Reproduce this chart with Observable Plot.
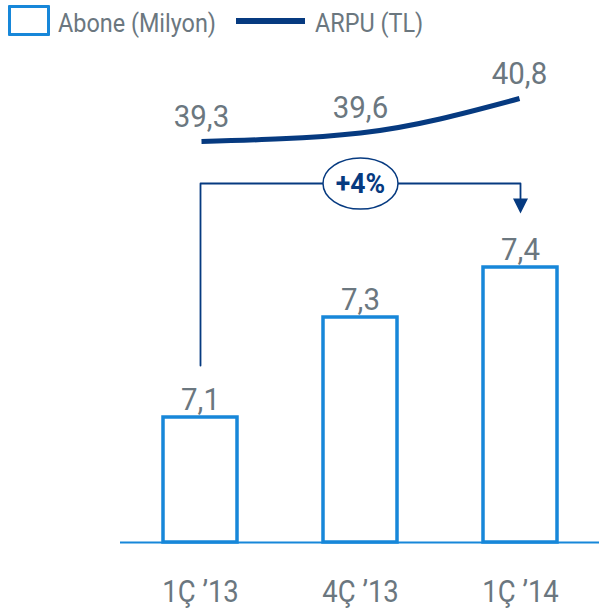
<!DOCTYPE html>
<html><head><meta charset="utf-8">
<script src="https://cdn.jsdelivr.net/npm/d3@7"></script>
<script src="https://cdn.jsdelivr.net/npm/@observablehq/plot@0.6"></script>
<style>
body{margin:0;background:#fff;}
#wrap{position:relative;width:599px;height:610px;font-family:Roboto,sans-serif;overflow:hidden;}
.a{position:absolute;}
.lt{position:absolute;font-size:26px;line-height:26px;color:#6b777f;transform:scaleX(0.9);transform-origin:0 0;white-space:nowrap;}
.layer{position:absolute;left:0;top:45px;width:599px;height:565px;}
</style></head><body>
<div id="wrap">
  <div class="a" style="left:8px;top:5px;width:42px;height:31px;border:3.5px solid #1787d9;box-sizing:border-box;border-radius:1px;"></div>
  <div class="lt" style="left:58px;top:10px">Abone (Milyon)</div>
  <div class="a" style="left:236px;top:18px;width:69px;height:6px;background:#063a80;"></div>
  <div class="lt" style="left:315px;top:10px">ARPU (TL)</div>
  <div id="bars" class="layer"></div>
  <div id="line" class="layer"></div>
</div>
<script>
// ---- data ----
const quarters = ["1Ç ’13", "4Ç ’13", "1Ç ’14"];
const abone = [7.1, 7.3, 7.4];      // Abone (Milyon)
const arpu = [39.3, 39.6, 40.8];    // ARPU (TL)
const growthLabel = "+4%";

// ---- styles / layout ----
const BLUE = "#1787d9", NAVY = "#063a80", GRAY = "#6b777f";
const W = 599, H = 565, ML = 120, MR = 0, MT = 0, MB = 68;
const xScale = {domain: quarters, paddingInner: 0.54, paddingOuter: 0.26, align: 0.5};
const barDomain = [6.85, 7.844];
const arpuDomain = [25.31, 42.65];
const annY = {start: 7.204, level: 7.568, end: 7.535, tip: 7.523};

const fmt = v => d3.format(".1f")(v).replace(".", ",");
const barData = quarters.map((q, i) => ({q, v: abone[i]}));
const lineData = quarters.map((q, i) => ({q, v: arpu[i]}));

const ellipse = {draw(ctx) {
  const rx = 37.5, ry = 25.5, k = 0.5523;
  ctx.moveTo(rx, 0);
  ctx.bezierCurveTo(rx, ry * k, rx * k, ry, 0, ry);
  ctx.bezierCurveTo(-rx * k, ry, -rx, ry * k, -rx, 0);
  ctx.bezierCurveTo(-rx, -ry * k, -rx * k, -ry, 0, -ry);
  ctx.bezierCurveTo(rx * k, -ry, rx, -ry * k, rx, 0);
  ctx.closePath();
}};
const triDown = {draw(ctx) {
  ctx.moveTo(-7.5, -7.5); ctx.lineTo(7.5, -7.5); ctx.lineTo(0, 7.5); ctx.closePath();
}};

const first = quarters[0], mid = quarters[1], last = quarters[quarters.length - 1];
const bracket = [
  {x: first, y: annY.start}, {x: first, y: annY.level},
  {x: last, y: annY.level}, {x: last, y: annY.end}
];

const common = {
  width: W, height: H, marginLeft: ML, marginRight: MR, marginTop: MT, marginBottom: MB,
  style: {fontFamily: "Roboto, sans-serif", background: "transparent", color: GRAY, overflow: "visible"}
};

const p1 = Plot.plot({
  ...common,
  x: xScale,
  y: {domain: barDomain, axis: null},
  marks: [
    Plot.barY(barData, {x: "q", y1: barDomain[0], y2: "v", fill: "white", stroke: BLUE, strokeWidth: 3.5}),
    Plot.ruleY([barDomain[0]], {stroke: BLUE, strokeWidth: 2}),
    Plot.text(barData, {x: "q", y: "v", text: d => fmt(d.v), dy: -8, lineAnchor: "bottom", fontSize: 31, fill: GRAY, className: "num"}),
    Plot.axisX({tickSize: 0, tickPadding: 37, fontSize: 32, label: null, fill: GRAY, className: "tick"}),
    Plot.line(bracket, {x: "x", y: "y", stroke: NAVY, strokeWidth: 1.8, curve: "linear"}),
    Plot.dot([0], {x: () => last, y: () => annY.tip, symbol: triDown, fill: NAVY, stroke: "none"}),
    Plot.dot([0], {x: () => mid, y: () => annY.level, symbol: ellipse, fill: "white", stroke: NAVY, strokeWidth: 1.5}),
    Plot.text([growthLabel], {x: () => mid, y: () => annY.level, text: d => d, fontSize: 28, fontWeight: 700, fill: NAVY, dy: 1, className: "growth"})
  ]
});

const p2 = Plot.plot({
  ...common,
  x: {...xScale, axis: null},
  y: {domain: arpuDomain, axis: null},
  marks: [
    Plot.line(lineData, {x: "q", y: "v", curve: "monotone-x", stroke: NAVY, strokeWidth: 5, strokeLinecap: "butt"}),
    Plot.text(lineData, {x: "q", y: "v", text: d => fmt(d.v), dy: -15, lineAnchor: "bottom", fontSize: 31, fill: GRAY, className: "num"})
  ]
});

function condense(svg, sel, s) {
  svg.querySelectorAll(sel).forEach(t => {
    const x = +(t.getAttribute("x") || 0);
    const tr = t.getAttribute("transform") || "";
    t.setAttribute("transform", `${tr} translate(${x},0) scale(${s},1) translate(${-x},0)`);
  });
}
condense(p1, ".num text", 0.95);
condense(p1, ".tick text", 0.86);
condense(p1, ".growth text", 0.95);
condense(p2, ".num text", 0.95);
document.getElementById("bars").append(p1);
document.getElementById("line").append(p2);
</script>
</body></html>
